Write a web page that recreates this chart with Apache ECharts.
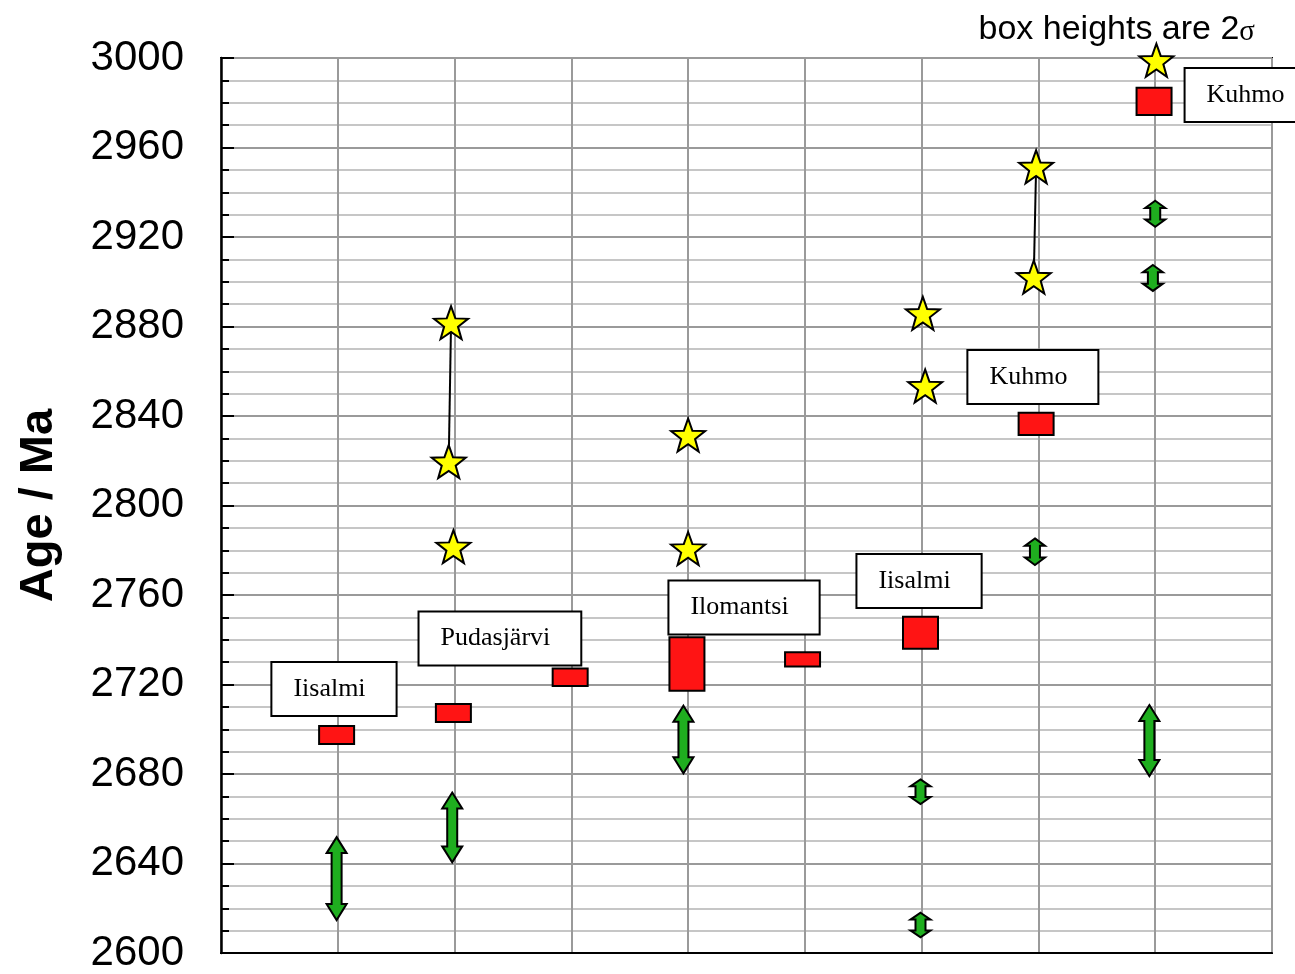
<!DOCTYPE html>
<html>
<head>
<meta charset="utf-8">
<script src="https://cdn.jsdelivr.net/npm/echarts@6/dist/echarts.min.js"></script>
<style>html,body{margin:0;padding:0;background:#fff;}#c{width:1295px;height:974px;}</style>
</head>
<body>
<div id="c"></div>
<script>
// ---- data ----
const yTicks = [2600, 2640, 2680, 2720, 2760, 2800, 2840, 2880, 2920, 2960, 3000];

// red boxes (2 sigma)
const boxX    = [0.99, 1.99, 2.99, 3.99, 4.98, 5.99, 6.98, 7.99];
const boxLow  = [2693.4, 2703.2, 2719.3, 2717.2, 2728.1, 2736.0, 2831.5, 2974.5];
const boxHigh = [2701.5, 2711.3, 2727.2, 2741.1, 2734.4, 2750.3, 2841.5, 2986.7];

// yellow stars
const starX = [1.97, 1.95, 1.99, 4.00, 4.00, 6.01, 6.03, 6.98, 6.96, 8.01];
const starY = [2881.7, 2819.6, 2781.6, 2831.5, 2780.8, 2885.9, 2853.4, 2951.4, 2902.1, 2999.0];
// star pairs joined by a line
const starLinks = [[0, 1], [7, 8]];

// green double arrows (ranges)
const arrowX    = [0.99, 1.98, 3.96, 5.99, 5.99, 6.97, 8.00, 7.98, 7.95];
const arrowLow  = [2614.7, 2640.5, 2680.3, 2666.6, 2607.0, 2773.4, 2924.6, 2895.9, 2679.1];
const arrowHigh = [2651.8, 2671.7, 2710.5, 2677.6, 2618.0, 2785.3, 2936.2, 2907.5, 2710.8];

// text labels (left edge x, centre y)
const labelText = ['Iisalmi', 'Pudasjärvi', 'Ilomantsi', 'Iisalmi', 'Kuhmo', 'Kuhmo'];
const labelX    = [0.44, 1.70, 3.84, 5.45, 6.40, 8.26];
const labelY    = [2718.0, 2740.6, 2754.4, 2766.3, 2857.4, 2983.5];

// ---- build ----
function starPath() {
  const R = 10, r = R * 0.41;
  let d = '';
  for (let i = 0; i < 10; i++) {
    const rad = i % 2 === 0 ? R : r;
    const a = (-90 + i * 36) * Math.PI / 180;
    const x = (rad * Math.cos(a)).toFixed(3), y = (rad * Math.sin(a)).toFixed(3);
    d += (i === 0 ? 'M' : 'L') + x + ',' + y + ' ';
  }
  return 'path://' + d + 'Z';
}

const boxData = boxX.map((x, i) => [x, boxLow[i], boxHigh[i]]);
const starData = starX.map((x, i) => [x, starY[i]]);
const arrowData = arrowX.map((x, i) => [x, arrowLow[i], arrowHigh[i]]);
const labelData = labelText.map((t, i) => [labelX[i], labelY[i], t]);
const linkSeries = starLinks.map(p => ({
  type: 'line', z: 3, symbol: 'none', silent: true,
  data: [starData[p[0]], starData[p[1]]],
  lineStyle: { color: '#000', width: 2 }
}));

const chart = echarts.init(document.getElementById('c'), null, { renderer: 'canvas' });
chart.setOption({
  animation: false,
  backgroundColor: '#fff',
  title: {
    text: '{a|box heights are 2}{b|σ}',
    right: 35, top: 2,
    textStyle: {
      fontWeight: 'normal',
      rich: {
        a: { fontSize: 34, fontWeight: 'normal', fontFamily: 'Liberation Sans', color: '#000', verticalAlign: 'bottom', lineHeight: 40 },
        b: { fontSize: 29, fontWeight: 'normal', fontFamily: 'Liberation Serif', color: '#000', verticalAlign: 'bottom', lineHeight: 36 }
      }
    }
  },
  grid: { left: 221, right: 23, top: 58, bottom: 21, show: true, borderColor: '#000', borderWidth: 2 },
  xAxis: {
    type: 'value', min: 0, max: 9, interval: 1,
    axisLine: { show: true, lineStyle: { color: '#000', width: 2 } },
    axisTick: { show: false }, axisLabel: { show: false },
    splitLine: { show: true, lineStyle: { color: '#9a9a9a', width: 2 } }
  },
  yAxis: {
    type: 'value', min: 2600, max: 3000, interval: 40,
    name: 'Age / Ma', nameLocation: 'middle', nameGap: 158,
    nameTextStyle: { fontSize: 47, fontWeight: 'bold', fontFamily: 'Liberation Sans', color: '#000' },
    axisLine: { show: true, lineStyle: { color: '#000', width: 2.5 } },
    axisTick: { show: true, inside: true, length: 13, lineStyle: { color: '#000', width: 2 } },
    minorTick: { show: true, splitNumber: 4, length: 8, lineStyle: { color: '#000', width: 2 } },
    splitLine: { show: true, lineStyle: { color: '#9a9a9a', width: 2 } },
    minorSplitLine: { show: true, lineStyle: { color: '#c6c6c6', width: 2 } },
    axisLabel: {
      fontSize: 42, fontFamily: 'Liberation Sans', color: '#000', margin: 37, padding: [6, 0, 0, 0],
      formatter: v => (yTicks.indexOf(v) >= 0 ? String(v) : '')
    }
  },
  series: [
    ...linkSeries,
    {
      type: 'custom', z: 4, data: arrowData,
      renderItem: (params, api) => {
        const x = api.coord([api.value(0), api.value(2)])[0];
        const top = api.coord([api.value(0), api.value(2)])[1];
        const bot = api.coord([api.value(0), api.value(1)])[1];
        const span = bot - top;
        const h = Math.min(16, span * 0.28);
        const hw = 10, sw = 5;
        const pts = [
          [x, top], [x + hw, top + h], [x + sw, top + h], [x + sw, bot - h], [x + hw, bot - h],
          [x, bot], [x - hw, bot - h], [x - sw, bot - h], [x - sw, top + h], [x - hw, top + h]
        ];
        return { type: 'polygon', shape: { points: pts },
          style: { fill: '#1fae1f', stroke: '#000', lineWidth: 2, lineJoin: 'miter' } };
      }
    },
    {
      type: 'custom', z: 4, data: boxData,
      renderItem: (params, api) => {
        const p1 = api.coord([api.value(0), api.value(2)]);
        const p2 = api.coord([api.value(0), api.value(1)]);
        const w = 35;
        return { type: 'rect', shape: { x: p1[0] - w / 2, y: p1[1], width: w, height: p2[1] - p1[1] },
          style: { fill: '#ff1414', stroke: '#000', lineWidth: 2 } };
      }
    },
    {
      type: 'scatter', z: 5, data: starData,
      symbol: starPath(), symbolSize: [34, 33],
      itemStyle: { color: '#ffff00', borderColor: '#000', borderWidth: 2, opacity: 1 }
    },
    {
      type: 'custom', z: 6, data: labelData, clip: false,
      renderItem: (params, api) => {
        const p = api.coord([api.value(0), api.value(1)]);
        return { type: 'text', x: p[0], y: p[1],
          style: { text: labelText[params.dataIndex], font: '26px "Liberation Serif"', fill: '#000',
            align: 'left', verticalAlign: 'middle', lineHeight: 30,
            backgroundColor: '#fff', borderColor: '#000', borderWidth: 2, padding: [11, 30, 11, 21] } };
      }
    }
  ]
});
</script>
</body>
</html>
